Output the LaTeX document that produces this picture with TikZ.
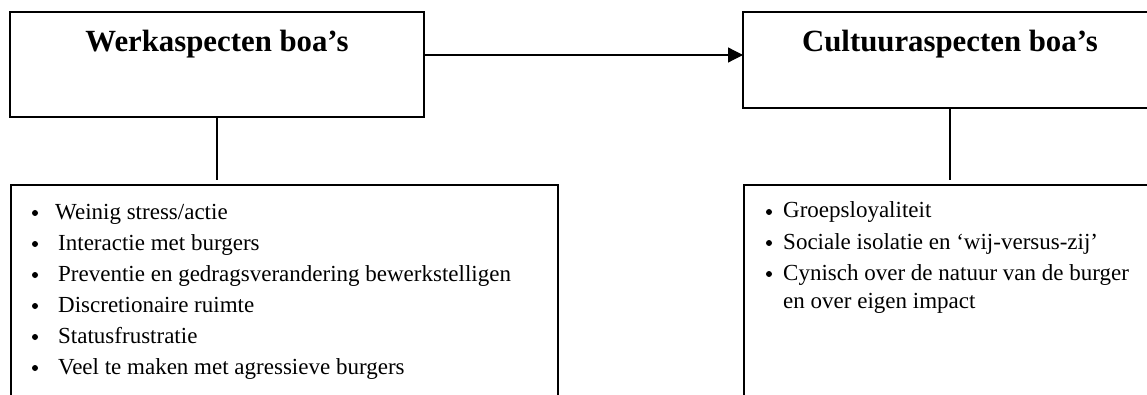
\documentclass[tikz,border=0pt]{standalone}
\usepackage{fontspec}
\setmainfont{Liberation Serif}
\usetikzlibrary{arrows.meta,calc}
\begin{document}
\begin{tikzpicture}[x=1pt,y=-1pt,
  box/.style={draw=black,line width=1.2pt,fill=none,inner sep=0pt,outer sep=0pt},
  conn/.style={draw=black,line width=1.2pt},
  title/.style={anchor=base,inner sep=0pt,font=\fontsize{30.8}{36}\selectfont\bfseries},
  item/.style={anchor=base west,inner sep=0pt,font=\fontsize{23}{31}\selectfont},
  bul/.style={circle,fill=black,inner sep=0pt,minimum size=6pt}]
\clip (0,0) rectangle (1147,395);
% boxes
\node[box,minimum width=414pt,minimum height=105pt] (wbox) at (217,64.5) {};
\node[box,minimum width=414pt,minimum height=96pt] (cbox) at (950,60) {};
\node[box,minimum width=547pt,minimum height=235pt] (wlist) at (284.5,302.5) {};
\node[box,minimum width=416pt,minimum height=235pt] (clist) at (952,302.5) {};
% titles
\node[title] (wtitle) at (217,52) {Werkaspecten boa’s};
\node[title] (ctitle) at (950,52) {Cultuuraspecten boa’s};
% connectors
\coordinate (wend) at ($(wbox.south |- wlist.north)+(0,-5)$);
\coordinate (cend) at ($(cbox.south |- clist.north)+(0,-5)$);
\draw[conn] (wbox.south) -- (wend);
\draw[conn] (cbox.south) -- (cend);
\coordinate (astart) at ($(wbox.north east)+(0,43)$);
\draw[conn,-{Triangle[length=15pt,width=15pt]}] (astart) -- (cbox.west |- astart);
% left list
\node[bul] (lb1) at (35,213) {};
\node[bul] (lb2) at (35,244) {};
\node[bul] (lb3) at (35,275) {};
\node[bul] (lb4) at (35,306) {};
\node[bul] (lb5) at (35,337) {};
\node[bul] (lb6) at (35,368) {};
\node[item] (lt1) at (55,219) {Weinig stress/actie};
\node[item] (lt2) at (58,250) {Interactie met burgers};
\node[item] (lt3) at (58,281) {Preventie en gedragsverandering bewerkstelligen};
\node[item] (lt4) at (58,312) {Discretionaire ruimte};
\node[item] (lt5) at (58,343) {Statusfrustratie};
\node[item] (lt6) at (58,374) {Veel te maken met agressieve burgers};
% right list
\node[bul] (rb1) at (769,212) {};
\node[bul] (rb2) at (769,243) {};
\node[bul] (rb3) at (769,274) {};
\node[item] (rt1) at (783,218) {Groepsloyaliteit};
\node[item] (rt2) at (783,249) {Sociale isolatie en ‘wij-versus-zij’};
\node[item] (rt3) at (783,280) {Cynisch over de natuur van de burger};
\node[item] (rt4) at (783,308) {en over eigen impact};
\end{tikzpicture}
\end{document}
